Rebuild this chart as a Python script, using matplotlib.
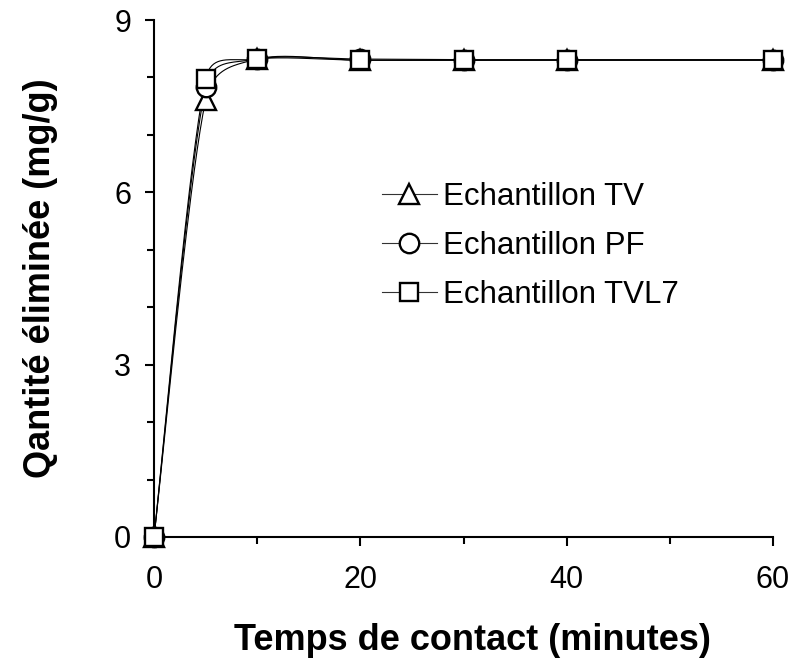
import numpy as np
import matplotlib
matplotlib.use("Agg")
import matplotlib.pyplot as plt
from matplotlib.ticker import MultipleLocator

plt.rcParams['font.family'] = ['Liberation Sans', 'DejaVu Sans']

time = [0, 5, 10, 20, 30, 40, 60]
tv = [0, 7.6, 8.32, 8.3, 8.3, 8.3, 8.3]
pf = [0, 7.83, 8.32, 8.32, 8.31, 8.31, 8.31]
tvl7 = [0, 7.97, 8.32, 8.3, 8.3, 8.3, 8.3]
labels = ["Echantillon TV", "Echantillon PF", "Echantillon TVL7"]


def excel_smooth(ax, x, y, n=40):
    # Excel-style smoothed line computed in display space
    pts = ax.transData.transform(np.column_stack([x, y]))
    N = len(pts)
    out = []
    f = 1.0 / 6.0
    t = np.linspace(0, 1, n)[:, None]
    for i in range(N - 1):
        p0 = pts[i - 1] if i > 0 else pts[i]
        p1 = pts[i]
        p2 = pts[i + 1]
        p3 = pts[i + 2] if i + 2 < N else pts[i + 1]
        d02 = np.linalg.norm(p2 - p0)
        d12 = np.linalg.norm(p2 - p1)
        d13 = np.linalg.norm(p3 - p1)
        a = f if (d02 == 0 or d02 * f <= d12 / 2) else d12 / (2 * d02)
        b = f if (d13 == 0 or d13 * f <= d12 / 2) else d12 / (2 * d13)
        c1 = p1 + a * (p2 - p0)
        c2 = p2 - b * (p3 - p1)
        seg = (1 - t) ** 3 * p1 + 3 * (1 - t) ** 2 * t * c1 + 3 * (1 - t) * t ** 2 * c2 + t ** 3 * p2
        out.append(seg)
    out = np.vstack(out)
    data = ax.transData.inverted().transform(out)
    return data[:, 0], data[:, 1]


fig = plt.figure(figsize=(7.95, 6.63), dpi=100)
ax = fig.add_axes([154 / 795, 1 - 537 / 663, (773 - 154) / 795, (537 - 20) / 663])
ax.set_xlim(0, 60)
ax.set_ylim(0, 9)

markers = ['^', 'o', 's']
msizes = [14, 14, 13.5]
series = [tv, pf, tvl7]
handles = []
for s, m, ms, lab in zip(series, markers, msizes, labels):
    sx, sy = excel_smooth(ax, time, s)
    ax.plot(sx, sy, color='black', lw=0.8, zorder=2, clip_on=False)
    ax.plot(time, s, linestyle='none', marker=m, markersize=ms, markerfacecolor='white',
            markeredgecolor='black', markeredgewidth=1.7, zorder=3, clip_on=False)
    h, = ax.plot([], [], color='#333333', lw=0.8, marker=m, markersize=ms,
                 markerfacecolor='white', markeredgecolor='black', markeredgewidth=1.7)
    handles.append(h)

ax.xaxis.set_major_locator(MultipleLocator(20))
ax.xaxis.set_minor_locator(MultipleLocator(10))
ax.yaxis.set_major_locator(MultipleLocator(3))
ax.yaxis.set_minor_locator(MultipleLocator(1))
for sp in ['top', 'right']:
    ax.spines[sp].set_visible(False)
for sp in ['left', 'bottom']:
    ax.spines[sp].set_linewidth(1.5)
ax.tick_params(which='major', direction='out', length=6.5, width=1.5, labelsize=22)
ax.tick_params(axis='x', which='major', pad=14)
ax.tick_params(axis='y', which='major', pad=10)
ax.tick_params(which='minor', direction='out', length=5, width=1.5)

ax.set_xlabel("Temps de contact (minutes)", fontsize=26, fontweight='bold', labelpad=20)
ax.xaxis.label.set_x((472 - 154) / 619)
ax.set_ylabel("Qantité éliminée (mg/g)", fontsize=26, fontweight='bold', labelpad=40)

ax.legend(handles, labels, loc='center left', bbox_to_anchor=(228 / 619, (537 - 246) / 517),
          frameon=False, fontsize=22.5, handlelength=1.75, handletextpad=0.2,
          labelspacing=0.6, borderaxespad=0, borderpad=0)

fig.savefig("out.png", dpi=100)
